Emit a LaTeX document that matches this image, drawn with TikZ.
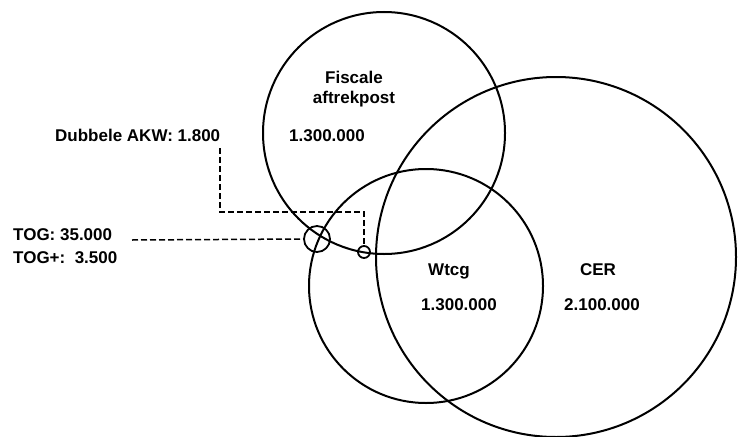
\documentclass[tikz,border=0pt]{standalone}
\usepackage{fontspec}
\setmainfont{Liberation Sans}
\begin{document}
\begin{tikzpicture}[x=1pt,y=-1pt,
  venn/.style={circle,draw,line width=2pt,inner sep=0pt},
  lbl/.style={anchor=base,inner sep=0pt,font=\fontsize{17}{20}\selectfont\bfseries},
  lblw/.style={lbl,anchor=base west},
  lead/.style={line width=1.5pt,dash pattern=on 6pt off 3pt}]
\useasboundingbox (0,0) rectangle (738,436);
% main circles
\node[venn,minimum size=242pt] (fisc) at (384,133) {};
\node[venn,minimum size=234pt] (wtcg) at (426,286) {};
\node[venn,minimum size=360pt] (cer) at (556,257) {};
% small circles
\node[venn,line width=1.8pt,minimum size=26pt] (togc) at (317,239) {};
\node[venn,line width=1.8pt,minimum size=12pt] (akwc) at (364,252) {};
% labels
\node[lbl] (fiscT) at (354,83) {Fiscale};
\node[lbl] (fiscA) at (354,103) {aftrekpost};
\node[lbl] (fiscN) at (327,141) {1.300.000};
\node[lblw] (akw) at (55,141) {Dubbele AKW: 1.800};
\node[lblw] (tog) at (13,240) {TOG: 35.000};
\node[lblw] (togp) at (13,263) {TOG+:\ \ 3.500};
\node[lbl] (wtcgT) at (449,275) {Wtcg};
\node[lbl] (wtcgN) at (459,310) {1.300.000};
\node[lbl] (cerT) at (598,275) {CER};
\node[lbl] (cerN) at (602,310) {2.100.000};
% leader lines
\coordinate (togstart) at (132,240);
\coordinate (akwstart) at (220,148);
\coordinate (akwbend) at (364,212);
\draw[lead] (togstart) -- (togc.west);
\draw[lead] (akwstart) |- (akwbend) -- (akwc.north);
\end{tikzpicture}
\end{document}
